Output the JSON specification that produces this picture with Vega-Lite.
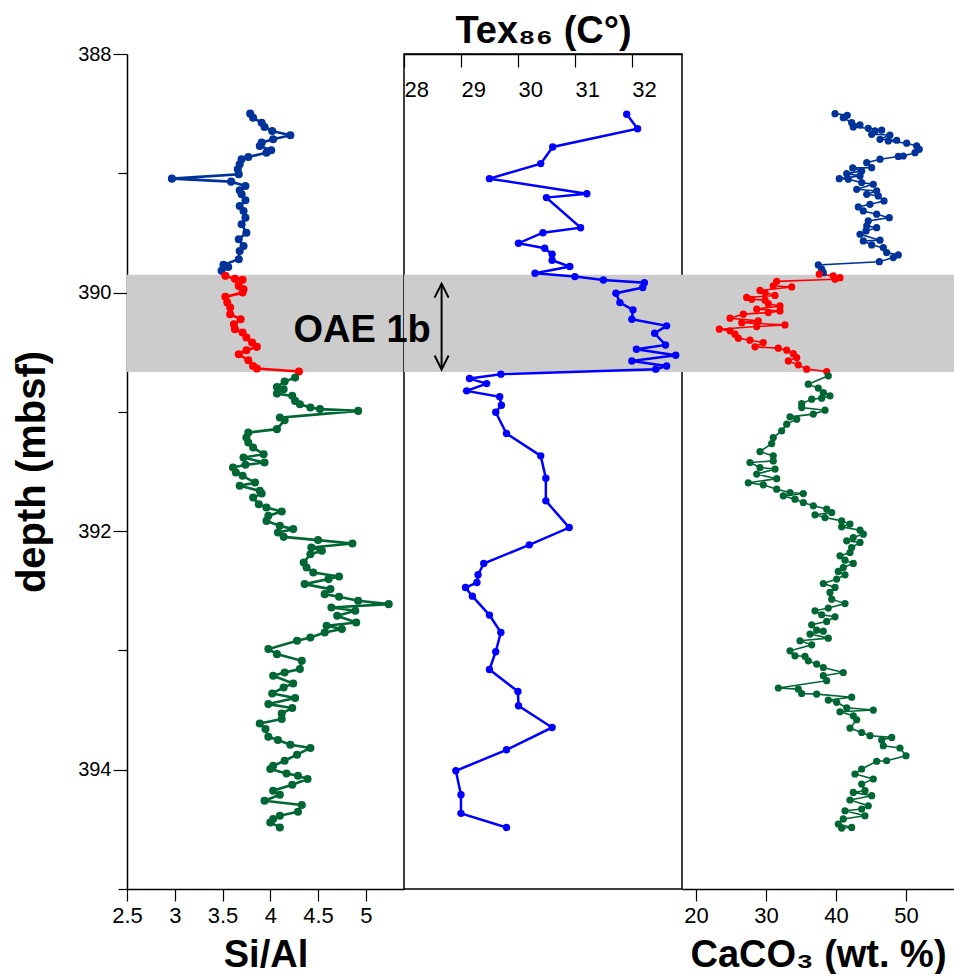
{
  "$schema": "https://vega.github.io/schema/vega-lite/v6.json",
  "padding": {"left": 12, "top": 11, "right": 0, "bottom": 0},
  "bounds": "flush",
  "spacing": 0,
  "config": {
    "font": "Liberation Sans",
    "view": {"stroke": null},
    "axis": {
      "labelFont": "Liberation Sans", "titleFont": "Liberation Sans",
      "labelColor": "black", "titleColor": "black", "domainColor": "black", "tickColor": "black",
      "grid": false, "labelFlush": false, "labelOverlap": false, "domainWidth": 1.5, "tickWidth": 1.2
    }
  },
  "datasets": {
    "band": [{"depth": 389.85, "depth2": 390.665}],
    "siAl": [
      {"depth":388.500,"v":3.79,"seg":"a"},{"depth":388.534,"v":3.82,"seg":"a"},{"depth":388.576,"v":3.91,"seg":"a"},{"depth":388.612,"v":3.94,"seg":"a"},{"depth":388.645,"v":4.02,"seg":"a"},{"depth":388.681,"v":4.21,"seg":"a"},{"depth":388.715,"v":4.03,"seg":"a"},{"depth":388.743,"v":3.91,"seg":"a"},{"depth":388.771,"v":3.89,"seg":"a"},{"depth":388.807,"v":4.01,"seg":"a"},{"depth":388.827,"v":3.96,"seg":"a"},{"depth":388.863,"v":3.77,"seg":"a"},{"depth":388.882,"v":3.70,"seg":"a"},{"depth":388.924,"v":3.68,"seg":"a"},{"depth":388.966,"v":3.66,"seg":"a"},{"depth":389.008,"v":3.67,"seg":"a"},{"depth":389.045,"v":2.97,"seg":"a"},{"depth":389.070,"v":3.59,"seg":"a"},{"depth":389.106,"v":3.74,"seg":"a"},{"depth":389.142,"v":3.68,"seg":"a"},{"depth":389.176,"v":3.70,"seg":"a"},{"depth":389.226,"v":3.74,"seg":"a"},{"depth":389.274,"v":3.68,"seg":"a"},{"depth":389.316,"v":3.72,"seg":"a"},{"depth":389.372,"v":3.74,"seg":"a"},{"depth":389.427,"v":3.70,"seg":"a"},{"depth":389.498,"v":3.75,"seg":"a"},{"depth":389.553,"v":3.67,"seg":"a"},{"depth":389.609,"v":3.72,"seg":"a"},{"depth":389.651,"v":3.68,"seg":"a"},{"depth":389.720,"v":3.67,"seg":"a"},{"depth":389.768,"v":3.51,"seg":"a"},{"depth":389.785,"v":3.56,"seg":"a"},{"depth":389.818,"v":3.49,"seg":"a"},
      {"depth":389.860,"v":3.53,"seg":"b"},{"depth":389.885,"v":3.63,"seg":"b"},{"depth":389.892,"v":3.71,"seg":"b"},{"depth":389.944,"v":3.67,"seg":"b"},{"depth":389.972,"v":3.72,"seg":"b"},{"depth":390.000,"v":3.71,"seg":"b"},{"depth":390.036,"v":3.53,"seg":"b"},{"depth":390.084,"v":3.55,"seg":"b"},{"depth":390.126,"v":3.58,"seg":"b"},{"depth":390.181,"v":3.58,"seg":"b"},{"depth":390.223,"v":3.69,"seg":"b"},{"depth":390.265,"v":3.62,"seg":"b"},{"depth":390.307,"v":3.63,"seg":"b"},{"depth":390.335,"v":3.71,"seg":"b"},{"depth":390.377,"v":3.75,"seg":"b"},{"depth":390.419,"v":3.81,"seg":"b"},{"depth":390.455,"v":3.86,"seg":"b"},{"depth":390.483,"v":3.75,"seg":"b"},{"depth":390.517,"v":3.67,"seg":"b"},{"depth":390.567,"v":3.77,"seg":"b"},{"depth":390.615,"v":3.82,"seg":"b"},{"depth":390.637,"v":3.86,"seg":"b"},{"depth":390.662,"v":4.30,"seg":"b"},
      {"depth":390.713,"v":4.26,"seg":"c"},{"depth":390.746,"v":4.15,"seg":"c"},{"depth":390.791,"v":4.07,"seg":"c"},{"depth":390.810,"v":4.14,"seg":"c"},{"depth":390.847,"v":4.07,"seg":"c"},{"depth":390.866,"v":4.23,"seg":"c"},{"depth":390.908,"v":4.26,"seg":"c"},{"depth":390.936,"v":4.31,"seg":"c"},{"depth":390.964,"v":4.42,"seg":"c"},{"depth":390.977,"v":4.52,"seg":"c"},{"depth":390.992,"v":4.92,"seg":"c"},{"depth":391.048,"v":4.10,"seg":"c"},{"depth":391.070,"v":4.15,"seg":"c"},{"depth":391.145,"v":4.07,"seg":"c"},{"depth":391.174,"v":3.77,"seg":"c"},{"depth":391.215,"v":3.75,"seg":"c"},{"depth":391.257,"v":3.77,"seg":"c"},{"depth":391.299,"v":3.82,"seg":"c"},{"depth":391.355,"v":3.93,"seg":"c"},{"depth":391.383,"v":3.72,"seg":"c"},{"depth":391.425,"v":3.94,"seg":"c"},{"depth":391.444,"v":3.74,"seg":"c"},{"depth":391.467,"v":3.61,"seg":"c"},{"depth":391.509,"v":3.64,"seg":"c"},{"depth":391.536,"v":3.71,"seg":"c"},{"depth":391.593,"v":3.84,"seg":"c"},{"depth":391.620,"v":3.68,"seg":"c"},{"depth":391.662,"v":3.89,"seg":"c"},{"depth":391.685,"v":3.91,"seg":"c"},{"depth":391.718,"v":3.82,"seg":"c"},{"depth":391.774,"v":3.88,"seg":"c"},{"depth":391.802,"v":3.96,"seg":"c"},{"depth":391.836,"v":4.12,"seg":"c"},{"depth":391.872,"v":3.98,"seg":"c"},{"depth":391.914,"v":3.96,"seg":"c"},{"depth":391.955,"v":4.10,"seg":"c"},{"depth":391.983,"v":4.24,"seg":"c"},{"depth":392.012,"v":4.08,"seg":"c"},{"depth":392.048,"v":4.14,"seg":"c"},{"depth":392.075,"v":4.50,"seg":"c"},{"depth":392.104,"v":4.86,"seg":"c"},{"depth":392.137,"v":4.43,"seg":"c"},{"depth":392.165,"v":4.54,"seg":"c"},{"depth":392.193,"v":4.42,"seg":"c"},{"depth":392.263,"v":4.35,"seg":"c"},{"depth":392.305,"v":4.38,"seg":"c"},{"depth":392.347,"v":4.45,"seg":"c"},{"depth":392.380,"v":4.72,"seg":"c"},{"depth":392.402,"v":4.61,"seg":"c"},{"depth":392.444,"v":4.36,"seg":"c"},{"depth":392.486,"v":4.63,"seg":"c"},{"depth":392.528,"v":4.57,"seg":"c"},{"depth":392.550,"v":4.72,"seg":"c"},{"depth":392.584,"v":4.92,"seg":"c"},{"depth":392.612,"v":5.24,"seg":"c"},{"depth":392.640,"v":4.64,"seg":"c"},{"depth":392.668,"v":4.89,"seg":"c"},{"depth":392.710,"v":4.70,"seg":"c"},{"depth":392.766,"v":4.90,"seg":"c"},{"depth":392.793,"v":4.59,"seg":"c"},{"depth":392.821,"v":4.75,"seg":"c"},{"depth":392.850,"v":4.57,"seg":"c"},{"depth":392.891,"v":4.42,"seg":"c"},{"depth":392.919,"v":4.28,"seg":"c"},{"depth":392.989,"v":3.98,"seg":"c"},{"depth":393.031,"v":4.07,"seg":"c"},{"depth":393.087,"v":4.33,"seg":"c"},{"depth":393.156,"v":4.31,"seg":"c"},{"depth":393.185,"v":4.15,"seg":"c"},{"depth":393.212,"v":4.03,"seg":"c"},{"depth":393.277,"v":4.24,"seg":"c"},{"depth":393.310,"v":4.14,"seg":"c"},{"depth":393.361,"v":4.02,"seg":"c"},{"depth":393.399,"v":4.26,"seg":"c"},{"depth":393.450,"v":3.98,"seg":"c"},{"depth":393.483,"v":4.23,"seg":"c"},{"depth":393.528,"v":4.12,"seg":"c"},{"depth":393.575,"v":4.12,"seg":"c"},{"depth":393.612,"v":3.89,"seg":"c"},{"depth":393.659,"v":3.95,"seg":"c"},{"depth":393.724,"v":3.98,"seg":"c"},{"depth":393.751,"v":4.08,"seg":"c"},{"depth":393.791,"v":4.21,"seg":"c"},{"depth":393.818,"v":4.42,"seg":"c"},{"depth":393.874,"v":4.28,"seg":"c"},{"depth":393.925,"v":4.15,"seg":"c"},{"depth":393.967,"v":4.03,"seg":"c"},{"depth":393.994,"v":4.00,"seg":"c"},{"depth":394.031,"v":4.17,"seg":"c"},{"depth":394.050,"v":4.29,"seg":"c"},{"depth":394.078,"v":4.39,"seg":"c"},{"depth":394.126,"v":4.23,"seg":"c"},{"depth":394.176,"v":4.03,"seg":"c"},{"depth":394.210,"v":4.10,"seg":"c"},{"depth":394.260,"v":3.94,"seg":"c"},{"depth":394.296,"v":4.33,"seg":"c"},{"depth":394.352,"v":4.29,"seg":"c"},{"depth":394.386,"v":4.10,"seg":"c"},{"depth":394.413,"v":4.03,"seg":"c"},{"depth":394.442,"v":4.00,"seg":"c"},{"depth":394.484,"v":4.10,"seg":"c"}
    ],
    "tex": [
      {"depth":388.505,"tex":31.91},{"depth":388.626,"tex":32.10},{"depth":388.779,"tex":30.61},{"depth":388.919,"tex":30.40},{"depth":389.045,"tex":29.50},{"depth":389.171,"tex":31.21},{"depth":389.204,"tex":30.50},{"depth":389.456,"tex":31.10},{"depth":389.498,"tex":30.44},{"depth":389.586,"tex":30.01},{"depth":389.628,"tex":30.47},{"depth":389.679,"tex":30.60},{"depth":389.729,"tex":30.60},{"depth":389.782,"tex":30.91},{"depth":389.838,"tex":30.30},{"depth":389.866,"tex":31.00},{"depth":389.894,"tex":31.50},{"depth":389.917,"tex":32.22},{"depth":389.958,"tex":32.19},{"depth":390.005,"tex":31.72},{"depth":390.084,"tex":31.79},{"depth":390.145,"tex":32.02},{"depth":390.223,"tex":32.00},{"depth":390.279,"tex":32.61},{"depth":390.341,"tex":32.40},{"depth":390.439,"tex":32.59},{"depth":390.475,"tex":32.08},{"depth":390.525,"tex":32.77},{"depth":390.573,"tex":32.00},{"depth":390.615,"tex":32.61},{"depth":390.642,"tex":32.42},{"depth":390.684,"tex":29.70},{"depth":390.721,"tex":29.15},{"depth":390.763,"tex":29.45},{"depth":390.824,"tex":29.10},{"depth":390.874,"tex":29.68},{"depth":390.944,"tex":29.71},{"depth":391.003,"tex":29.61},{"depth":391.182,"tex":29.80},{"depth":391.369,"tex":30.40},{"depth":391.556,"tex":30.49},{"depth":391.746,"tex":30.49},{"depth":391.970,"tex":30.90},{"depth":392.115,"tex":30.20},{"depth":392.271,"tex":29.40},{"depth":392.366,"tex":29.30},{"depth":392.431,"tex":29.28},{"depth":392.473,"tex":29.08},{"depth":392.545,"tex":29.20},{"depth":392.704,"tex":29.50},{"depth":392.850,"tex":29.70},{"depth":393.011,"tex":29.61},{"depth":393.160,"tex":29.50},{"depth":393.344,"tex":30.00},{"depth":393.464,"tex":30.01},{"depth":393.646,"tex":30.60},{"depth":393.833,"tex":29.80},{"depth":394.009,"tex":28.91},{"depth":394.210,"tex":29.00},{"depth":394.366,"tex":29.00},{"depth":394.484,"tex":29.80}
    ],
    "caco3": [
      {"depth":388.500,"v":39.86,"seg":"a"},{"depth":388.514,"v":41.61,"seg":"a"},{"depth":388.534,"v":41.04,"seg":"a"},{"depth":388.576,"v":42.24,"seg":"a"},{"depth":388.595,"v":43.43,"seg":"a"},{"depth":388.612,"v":42.47,"seg":"a"},{"depth":388.623,"v":44.61,"seg":"a"},{"depth":388.639,"v":46.53,"seg":"a"},{"depth":388.645,"v":45.57,"seg":"a"},{"depth":388.673,"v":45.10,"seg":"a"},{"depth":388.679,"v":47.71,"seg":"a"},{"depth":388.715,"v":46.29,"seg":"a"},{"depth":388.723,"v":48.67,"seg":"a"},{"depth":388.729,"v":47.47,"seg":"a"},{"depth":388.748,"v":50.10,"seg":"a"},{"depth":388.771,"v":51.53,"seg":"a"},{"depth":388.799,"v":51.90,"seg":"a"},{"depth":388.827,"v":51.29,"seg":"a"},{"depth":388.855,"v":49.61,"seg":"a"},{"depth":388.859,"v":48.90,"seg":"a"},{"depth":388.882,"v":46.29,"seg":"a"},{"depth":388.911,"v":44.39,"seg":"a"},{"depth":388.953,"v":45.10,"seg":"a"},{"depth":388.955,"v":42.39,"seg":"a"},{"depth":388.980,"v":43.67,"seg":"a"},{"depth":389.003,"v":41.53,"seg":"a"},{"depth":389.022,"v":43.43,"seg":"a"},{"depth":389.045,"v":40.47,"seg":"a"},{"depth":389.050,"v":41.76,"seg":"a"},{"depth":389.078,"v":43.67,"seg":"a"},{"depth":389.092,"v":45.33,"seg":"a"},{"depth":389.134,"v":42.96,"seg":"a"},{"depth":389.148,"v":45.81,"seg":"a"},{"depth":389.176,"v":44.39,"seg":"a"},{"depth":389.190,"v":46.04,"seg":"a"},{"depth":389.232,"v":46.86,"seg":"a"},{"depth":389.260,"v":44.86,"seg":"a"},{"depth":389.282,"v":43.19,"seg":"a"},{"depth":389.316,"v":43.90,"seg":"a"},{"depth":389.343,"v":45.81,"seg":"a"},{"depth":389.372,"v":47.61,"seg":"a"},{"depth":389.399,"v":44.61,"seg":"a"},{"depth":389.441,"v":44.39,"seg":"a"},{"depth":389.456,"v":45.81,"seg":"a"},{"depth":389.483,"v":44.29,"seg":"a"},{"depth":389.511,"v":43.43,"seg":"a"},{"depth":389.561,"v":46.29,"seg":"a"},{"depth":389.567,"v":43.90,"seg":"a"},{"depth":389.601,"v":45.10,"seg":"a"},{"depth":389.623,"v":46.76,"seg":"a"},{"depth":389.665,"v":47.24,"seg":"a"},{"depth":389.684,"v":48.90,"seg":"a"},{"depth":389.707,"v":48.19,"seg":"a"},{"depth":389.741,"v":46.19,"seg":"a"},{"depth":389.768,"v":37.47,"seg":"a"},{"depth":389.804,"v":37.96,"seg":"a"},{"depth":389.833,"v":38.19,"seg":"a"},
      {"depth":389.846,"v":37.61,"seg":"b"},{"depth":389.860,"v":39.61,"seg":"b"},{"depth":389.875,"v":40.57,"seg":"b"},{"depth":389.888,"v":39.86,"seg":"b"},{"depth":389.906,"v":31.53,"seg":"b"},{"depth":389.944,"v":31.04,"seg":"b"},{"depth":389.953,"v":33.67,"seg":"b"},{"depth":389.982,"v":29.14,"seg":"b"},{"depth":390.000,"v":29.86,"seg":"b"},{"depth":390.024,"v":31.29,"seg":"b"},{"depth":390.041,"v":27.24,"seg":"b"},{"depth":390.056,"v":27.96,"seg":"b"},{"depth":390.064,"v":29.86,"seg":"b"},{"depth":390.093,"v":30.33,"seg":"b"},{"depth":390.112,"v":32.00,"seg":"b"},{"depth":390.139,"v":28.67,"seg":"b"},{"depth":390.154,"v":32.00,"seg":"b"},{"depth":390.168,"v":30.33,"seg":"b"},{"depth":390.181,"v":26.76,"seg":"b"},{"depth":390.215,"v":24.86,"seg":"b"},{"depth":390.237,"v":28.90,"seg":"b"},{"depth":390.252,"v":26.53,"seg":"b"},{"depth":390.271,"v":32.71,"seg":"b"},{"depth":390.285,"v":28.67,"seg":"b"},{"depth":390.307,"v":23.33,"seg":"b"},{"depth":390.321,"v":24.86,"seg":"b"},{"depth":390.349,"v":25.57,"seg":"b"},{"depth":390.382,"v":26.04,"seg":"b"},{"depth":390.399,"v":27.71,"seg":"b"},{"depth":390.419,"v":29.61,"seg":"b"},{"depth":390.455,"v":28.43,"seg":"b"},{"depth":390.466,"v":31.76,"seg":"b"},{"depth":390.483,"v":32.96,"seg":"b"},{"depth":390.512,"v":33.90,"seg":"b"},{"depth":390.545,"v":34.39,"seg":"b"},{"depth":390.573,"v":33.19,"seg":"b"},{"depth":390.606,"v":34.61,"seg":"b"},{"depth":390.642,"v":35.81,"seg":"b"},{"depth":390.662,"v":38.67,"seg":"b"},
      {"depth":390.698,"v":38.90,"seg":"c"},{"depth":390.768,"v":36.04,"seg":"c"},{"depth":390.801,"v":37.47,"seg":"c"},{"depth":390.838,"v":38.19,"seg":"c"},{"depth":390.866,"v":39.14,"seg":"c"},{"depth":390.885,"v":37.96,"seg":"c"},{"depth":390.894,"v":36.53,"seg":"c"},{"depth":390.931,"v":35.10,"seg":"c"},{"depth":390.964,"v":35.10,"seg":"c"},{"depth":390.986,"v":38.43,"seg":"c"},{"depth":391.019,"v":36.76,"seg":"c"},{"depth":391.042,"v":33.43,"seg":"c"},{"depth":391.061,"v":34.39,"seg":"c"},{"depth":391.103,"v":32.96,"seg":"c"},{"depth":391.159,"v":32.24,"seg":"c"},{"depth":391.215,"v":31.04,"seg":"c"},{"depth":391.266,"v":30.81,"seg":"c"},{"depth":391.333,"v":29.14,"seg":"c"},{"depth":391.369,"v":31.04,"seg":"c"},{"depth":391.411,"v":31.04,"seg":"c"},{"depth":391.425,"v":27.71,"seg":"c"},{"depth":391.467,"v":29.14,"seg":"c"},{"depth":391.480,"v":31.29,"seg":"c"},{"depth":391.522,"v":28.67,"seg":"c"},{"depth":391.560,"v":31.53,"seg":"c"},{"depth":391.595,"v":27.47,"seg":"c"},{"depth":391.612,"v":29.61,"seg":"c"},{"depth":391.648,"v":31.53,"seg":"c"},{"depth":391.676,"v":33.43,"seg":"c"},{"depth":391.685,"v":35.33,"seg":"c"},{"depth":391.704,"v":32.47,"seg":"c"},{"depth":391.732,"v":34.14,"seg":"c"},{"depth":391.760,"v":35.33,"seg":"c"},{"depth":391.788,"v":36.76,"seg":"c"},{"depth":391.815,"v":38.67,"seg":"c"},{"depth":391.844,"v":39.39,"seg":"c"},{"depth":391.863,"v":37.00,"seg":"c"},{"depth":391.886,"v":38.43,"seg":"c"},{"depth":391.914,"v":40.81,"seg":"c"},{"depth":391.941,"v":42.00,"seg":"c"},{"depth":391.964,"v":40.81,"seg":"c"},{"depth":391.992,"v":43.43,"seg":"c"},{"depth":392.025,"v":43.90,"seg":"c"},{"depth":392.054,"v":42.47,"seg":"c"},{"depth":392.081,"v":41.53,"seg":"c"},{"depth":392.095,"v":43.43,"seg":"c"},{"depth":392.137,"v":42.24,"seg":"c"},{"depth":392.179,"v":42.00,"seg":"c"},{"depth":392.207,"v":40.57,"seg":"c"},{"depth":392.243,"v":41.29,"seg":"c"},{"depth":392.271,"v":42.47,"seg":"c"},{"depth":392.305,"v":41.04,"seg":"c"},{"depth":392.338,"v":40.33,"seg":"c"},{"depth":392.366,"v":41.29,"seg":"c"},{"depth":392.402,"v":40.10,"seg":"c"},{"depth":392.439,"v":38.19,"seg":"c"},{"depth":392.472,"v":39.86,"seg":"c"},{"depth":392.514,"v":39.14,"seg":"c"},{"depth":392.570,"v":39.39,"seg":"c"},{"depth":392.607,"v":41.29,"seg":"c"},{"depth":392.645,"v":38.90,"seg":"c"},{"depth":392.668,"v":37.00,"seg":"c"},{"depth":392.701,"v":37.96,"seg":"c"},{"depth":392.718,"v":39.86,"seg":"c"},{"depth":392.757,"v":38.67,"seg":"c"},{"depth":392.785,"v":36.53,"seg":"c"},{"depth":392.829,"v":37.24,"seg":"c"},{"depth":392.839,"v":38.19,"seg":"c"},{"depth":392.863,"v":36.29,"seg":"c"},{"depth":392.897,"v":38.90,"seg":"c"},{"depth":392.919,"v":34.86,"seg":"c"},{"depth":392.953,"v":36.53,"seg":"c"},{"depth":393.003,"v":33.43,"seg":"c"},{"depth":393.045,"v":34.14,"seg":"c"},{"depth":393.049,"v":35.57,"seg":"c"},{"depth":393.087,"v":36.04,"seg":"c"},{"depth":393.114,"v":37.24,"seg":"c"},{"depth":393.143,"v":38.19,"seg":"c"},{"depth":393.185,"v":41.04,"seg":"c"},{"depth":393.212,"v":38.19,"seg":"c"},{"depth":393.254,"v":38.67,"seg":"c"},{"depth":393.315,"v":31.76,"seg":"c"},{"depth":393.324,"v":34.61,"seg":"c"},{"depth":393.361,"v":35.10,"seg":"c"},{"depth":393.366,"v":37.24,"seg":"c"},{"depth":393.392,"v":42.24,"seg":"c"},{"depth":393.416,"v":38.90,"seg":"c"},{"depth":393.435,"v":40.10,"seg":"c"},{"depth":393.481,"v":41.53,"seg":"c"},{"depth":393.500,"v":45.33,"seg":"c"},{"depth":393.514,"v":40.57,"seg":"c"},{"depth":393.548,"v":42.47,"seg":"c"},{"depth":393.581,"v":42.96,"seg":"c"},{"depth":393.651,"v":42.00,"seg":"c"},{"depth":393.688,"v":43.67,"seg":"c"},{"depth":393.715,"v":44.86,"seg":"c"},{"depth":393.729,"v":47.96,"seg":"c"},{"depth":393.751,"v":46.53,"seg":"c"},{"depth":393.799,"v":46.76,"seg":"c"},{"depth":393.818,"v":49.14,"seg":"c"},{"depth":393.883,"v":50.00,"seg":"c"},{"depth":393.925,"v":47.24,"seg":"c"},{"depth":393.929,"v":45.81,"seg":"c"},{"depth":393.994,"v":43.67,"seg":"c"},{"depth":394.036,"v":42.71,"seg":"c"},{"depth":394.078,"v":45.33,"seg":"c"},{"depth":394.120,"v":43.67,"seg":"c"},{"depth":394.176,"v":44.14,"seg":"c"},{"depth":394.190,"v":42.47,"seg":"c"},{"depth":394.218,"v":45.10,"seg":"c"},{"depth":394.254,"v":42.00,"seg":"c"},{"depth":394.302,"v":44.61,"seg":"c"},{"depth":394.330,"v":43.67,"seg":"c"},{"depth":394.344,"v":41.29,"seg":"c"},{"depth":394.386,"v":44.14,"seg":"c"},{"depth":394.413,"v":41.04,"seg":"c"},{"depth":394.455,"v":40.33,"seg":"c"},{"depth":394.484,"v":42.24,"seg":"c"},{"depth":394.489,"v":40.81,"seg":"c"}
    ]
  },
  "hconcat": [
    {
      "width": 277, "height": 835,
      "encoding": {
        "y": {"field": "depth", "type": "quantitative",
          "scale": {"domain": [388, 395], "reverse": true, "nice": false, "zero": false},
          "axis": {"values": [388,389,390,391,392,393,394,395],
            "labelExpr": "datum.value % 2 === 0 ? datum.label : ''",
            "tickSize": {"condition": {"test": "datum.value % 2 === 0", "value": 14}, "value": 9},
            "labelFontSize": 20, "labelPadding": 2,
            "title": "depth (mbsf)", "titleFontSize": 40, "titleFontWeight": "bold", "titlePadding": 25}}
      },
      "layer": [
        {"data": {"name": "band"}, "mark": {"type": "rect", "color": "#cccccc"}, "encoding": {"y2": {"field": "depth2"}}},
        {"data": {"name": "siAl"}, "mark": {"type": "line", "strokeWidth": 2.6},
          "encoding": {
            "x": {"field": "v", "type": "quantitative", "scale": {"domain": [2.5, 5.4], "nice": false, "zero": false},
              "axis": {"values": [2.5,2.75,3,3.25,3.5,3.75,4,4.25,4.5,4.75,5,5.25], "format": "~g",
                "labelExpr": "datum.value % 0.5 === 0 ? datum.label : ''",
                "tickSize": {"condition": {"test": "datum.value % 0.5 === 0", "value": 12}, "value": 6},
                "labelFontSize": 22, "labelPadding": 4,
                "title": "Si/Al", "titleFontSize": 38, "titleFontWeight": "bold", "titlePadding": 10}},
            "color": {"field": "seg", "type": "nominal", "scale": {"domain": ["a","b","c"], "range": ["#003399","#ff0000","#006633"]}, "legend": null},
            "order": {"field": "depth", "type": "quantitative"}
          }},
        {"data": {"name": "siAl"}, "mark": {"type": "circle", "size": 65, "opacity": 1},
          "encoding": {
            "x": {"field": "v", "type": "quantitative", "title": "Si/Al"},
            "color": {"field": "seg", "type": "nominal", "scale": {"domain": ["a","b","c"], "range": ["#003399","#ff0000","#006633"]}, "legend": null}
          }}
      ]
    },
    {
      "width": 278, "height": 835,
      "view": {"stroke": "black", "strokeWidth": 1.5},
      "encoding": {
        "y": {"field": "depth", "type": "quantitative",
          "scale": {"domain": [388, 395], "reverse": true, "nice": false, "zero": false}, "axis": null}
      },
      "layer": [
        {"data": {"name": "band"}, "mark": {"type": "rect", "color": "#cccccc"}, "encoding": {"y2": {"field": "depth2"}}},
        {"data": {"name": "tex"}, "mark": {"type": "line", "strokeWidth": 2.5, "color": "#0000ff"},
          "encoding": {
            "x": {"field": "tex", "type": "quantitative", "scale": {"domain": [28, 32.88], "nice": false, "zero": false},
              "axis": {"orient": "top", "values": [28,28.5,29,29.5,30,30.5,31,31.5,32,32.5], "format": "~g",
                "labelExpr": "datum.value % 1 === 0 ? datum.label : ''",
                "tickSize": {"condition": {"test": "datum.value % 1 === 0", "value": -13}, "value": -8},
                "labelAlign": "left", "labelBaseline": "middle", "labelPadding": -22, "labelFontSize": 22,
                "title": "Tex₈₆ (C°)", "titleFontSize": 38, "titleFontWeight": "bold", "titlePadding": 3}},
            "order": {"field": "depth", "type": "quantitative"}
          }},
        {"data": {"name": "tex"}, "mark": {"type": "circle", "size": 55, "opacity": 1, "color": "#0000ff"},
          "encoding": {"x": {"field": "tex", "type": "quantitative", "title": "Tex₈₆ (C°)"}}},
        {"data": {"values": [{"tex": 28.47, "depth": 390.32, "label": "OAE 1b"}]},
          "mark": {"type": "text", "align": "right", "baseline": "middle", "fontSize": 38, "fontWeight": "bold", "color": "black", "font": "Liberation Sans"},
          "encoding": {"x": {"field": "tex", "type": "quantitative", "title": "Tex₈₆ (C°)"}, "text": {"field": "label"}}},
        {"data": {"values": [{"tex": 28.66, "depth": 389.93, "depth2": 390.64}]},
          "mark": {"type": "rule", "strokeWidth": 2, "color": "black"},
          "encoding": {"x": {"field": "tex", "type": "quantitative", "title": "Tex₈₆ (C°)"}, "y2": {"field": "depth2"}}},
        {"data": {"values": [{"tex": 28.66, "depth": 389.925}]},
          "mark": {"type": "point", "shape": "M-0.5,1L0,0L0.5,1", "size": 784, "filled": false, "strokeWidth": 2, "color": "black", "opacity": 1},
          "encoding": {"x": {"field": "tex", "type": "quantitative", "title": "Tex₈₆ (C°)"}}},
        {"data": {"values": [{"tex": 28.66, "depth": 390.645}]},
          "mark": {"type": "point", "shape": "M-0.5,-1L0,0L0.5,-1", "size": 784, "filled": false, "strokeWidth": 2, "color": "black", "opacity": 1},
          "encoding": {"x": {"field": "tex", "type": "quantitative", "title": "Tex₈₆ (C°)"}}}
      ]
    },
    {
      "width": 272, "height": 835,
      "encoding": {
        "y": {"field": "depth", "type": "quantitative",
          "scale": {"domain": [388, 395], "reverse": true, "nice": false, "zero": false}, "axis": null}
      },
      "layer": [
        {"data": {"name": "band"}, "mark": {"type": "rect", "color": "#cccccc"}, "encoding": {"y2": {"field": "depth2"}}},
        {"data": {"name": "caco3"}, "mark": {"type": "line", "strokeWidth": 1.6},
          "encoding": {
            "x": {"field": "v", "type": "quantitative", "scale": {"domain": [18, 56.86], "nice": false, "zero": false},
              "axis": {"values": [20,25,30,35,40,45,50,55], "format": "~g",
                "labelExpr": "datum.value % 10 === 0 ? datum.label : ''",
                "tickSize": {"condition": {"test": "datum.value % 10 === 0", "value": 12}, "value": 6},
                "labelFontSize": 22, "labelPadding": 4,
                "title": "CaCO₃ (wt. %)", "titleFontSize": 38, "titleFontWeight": "bold", "titlePadding": 10}},
            "color": {"field": "seg", "type": "nominal", "scale": {"domain": ["a","b","c"], "range": ["#003399","#ff0000","#006633"]}, "legend": null},
            "order": {"field": "depth", "type": "quantitative"}
          }},
        {"data": {"name": "caco3"}, "mark": {"type": "circle", "size": 52, "opacity": 1},
          "encoding": {
            "x": {"field": "v", "type": "quantitative", "title": "CaCO₃ (wt. %)"},
            "color": {"field": "seg", "type": "nominal", "scale": {"domain": ["a","b","c"], "range": ["#003399","#ff0000","#006633"]}, "legend": null}
          }}
      ]
    }
  ]
}
